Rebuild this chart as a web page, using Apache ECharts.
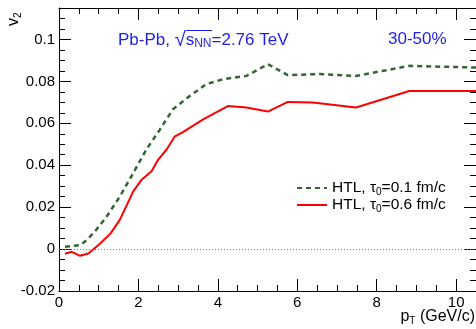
<!DOCTYPE html>
<html>
<head>
<meta charset="utf-8">
<script src="https://cdn.jsdelivr.net/npm/echarts@6/dist/echarts.min.js"></script>
<style>
  html, body { margin: 0; padding: 0; background: #fff; }
  #chart { width: 476px; height: 329px; }
</style>
</head>
<body>
<div id="chart"></div>
<script>
// p_T (GeV/c) and v2
const ptDashed = [0.15, 0.53, 0.70, 0.90, 1.2, 1.53, 1.87, 2.2, 2.54, 2.87, 3.29, 3.71, 4.13, 4.72, 5.26, 5.76, 6.56, 7.48, 8.82, 10.5];
const v2Dashed = [0.0011, 0.0019, 0.0043, 0.0083, 0.0155, 0.025, 0.0363, 0.0475, 0.057, 0.0667, 0.073, 0.0787, 0.081, 0.0826, 0.0882, 0.083, 0.0835, 0.0826, 0.0874, 0.0866];

const ptSolid = [0.15, 0.32, 0.53, 0.74, 1.03, 1.3, 1.53, 1.87, 2.08, 2.33, 2.5, 2.71, 2.91, 3.12, 3.63, 4.25, 4.72, 5.26, 5.76, 6.39, 7.48, 8.82, 10.5];
const v2Solid = [-0.0022, -0.0013, -0.0032, -0.0021, 0.0025, 0.0075, 0.0139, 0.0275, 0.0331, 0.0371, 0.0427, 0.0475, 0.0536, 0.0558, 0.0619, 0.0682, 0.0675, 0.0656, 0.0702, 0.0699, 0.0675, 0.0754, 0.0754];

const seriesNames = ['tau01', 'tau06'];
const legendLabels = {
  tau01: '{t|HTL, τ}{s|0}{t|=0.1 fm/c}',
  tau06: '{t|HTL, τ}{s|0}{t|=0.6 fm/c}'
};

const FONT = 'Liberation Sans';
const BLUE = '#1f1fe6';

const zip = (xs, ys) => xs.map((x, i) => [x, ys[i]]);

const chart = echarts.init(document.getElementById('chart'), null, { renderer: 'canvas' });

// ticks inside the frame, like ROOT
const tickCommon = {
  axisLine: { show: true, onZero: false, lineStyle: { color: '#000', width: 1 } },
  axisTick: { show: true, inside: true, length: 12, lineStyle: { color: '#000' } },
  minorTick: { show: true, splitNumber: 4, length: 6, lineStyle: { color: '#000' } },
  splitLine: { show: false },
  minorSplitLine: { show: false }
};

const xBase = { type: 'value', min: 0, max: 10.5, interval: 2 };
const yBase = { type: 'value', min: -0.02, max: 0.115, interval: 0.02 };

const subStyle = (size, fill) => ({ fontSize: size, fontFamily: FONT, fill: fill, color: fill, lineHeight: 8, verticalAlign: 'bottom' });

chart.setOption({
  animation: false,
  grid: { left: 59, top: 8, width: 418, height: 283, containLabel: false },
  xAxis: [
    Object.assign({}, xBase, tickCommon, {
      position: 'bottom',
      axisLabel: { margin: 4, fontSize: 15, fontFamily: FONT, color: '#000', showMaxLabel: false }
    }),
    Object.assign({}, xBase, tickCommon, { position: 'top', axisLabel: { show: false } })
  ],
  yAxis: [
    Object.assign({}, yBase, tickCommon, {
      position: 'left',
      axisLabel: {
        margin: 4, fontSize: 15, fontFamily: FONT, color: '#000', showMaxLabel: false,
        formatter: v => String(+v.toFixed(2))
      }
    }),
    Object.assign({}, yBase, tickCommon, { position: 'right', axisLabel: { show: false } })
  ],
  legend: {
    orient: 'vertical',
    left: 291,
    top: 175,
    itemWidth: 30,
    itemHeight: 12,
    itemGap: 0,
    data: seriesNames,
    itemStyle: { opacity: 0 },
    formatter: name => legendLabels[name],
    textStyle: {
      rich: {
        t: { fontSize: 15.5, fontFamily: FONT, color: '#000', lineHeight: 18 },
        s: subStyle(10, '#000')
      }
    }
  },
  series: [
    {
      name: 'tau01',
      type: 'line',
      data: zip(ptDashed, v2Dashed),
      showSymbol: false,
      symbol: 'none',
      lineStyle: { color: '#336633', width: 2.5, type: [5, 4] },
      itemStyle: { color: '#336633' },
      markLine: {
        silent: true,
        symbol: 'none',
        label: { show: false },
        lineStyle: { color: '#777', width: 1, type: [1, 2] },
        data: [{ yAxis: 0 }]
      }
    },
    {
      name: 'tau06',
      type: 'line',
      data: zip(ptSolid, v2Solid),
      showSymbol: false,
      symbol: 'none',
      lineStyle: { color: '#ff0000', width: 2 },
      itemStyle: { color: '#ff0000' }
    }
  ],
  graphic: [
    {
      type: 'text',
      left: 118,
      top: 30,
      style: {
        text: '{a|Pb-Pb, }{r|√}{a|s}{s|NN}{a|=2.76 TeV}',
        rich: {
          a: { fontSize: 17, fontFamily: FONT, fill: BLUE, lineHeight: 20 },
          r: { fontSize: 20, fontFamily: FONT, fill: BLUE, lineHeight: 20 },
          s: subStyle(12, BLUE)
        }
      }
    },
    {
      type: 'line',
      shape: { x1: 186, y1: 30.5, x2: 212, y2: 30.5 },
      style: { stroke: BLUE, lineWidth: 1 }
    },
    {
      type: 'text',
      left: 388,
      top: 31,
      style: { text: '30-50%', fontSize: 17, fontFamily: FONT, fill: BLUE }
    },
    {
      type: 'text',
      right: 1,
      top: 309,
      style: {
        text: '{a|p}{s|T}{a| (GeV/c)}',
        rich: {
          a: { fontSize: 16, fontFamily: FONT, fill: '#000', lineHeight: 18 },
          s: subStyle(10, '#000')
        }
      }
    },
    {
      // y-axis title, reads bottom to top
      type: 'text',
      x: 5,
      y: 26,
      rotation: Math.PI / 2,
      style: {
        text: '{a|v}{s|2}',
        rich: {
          a: { fontSize: 16, fontFamily: FONT, fill: '#000', lineHeight: 18 },
          s: subStyle(10, '#000')
        }
      }
    }
  ]
});
</script>
</body>
</html>
